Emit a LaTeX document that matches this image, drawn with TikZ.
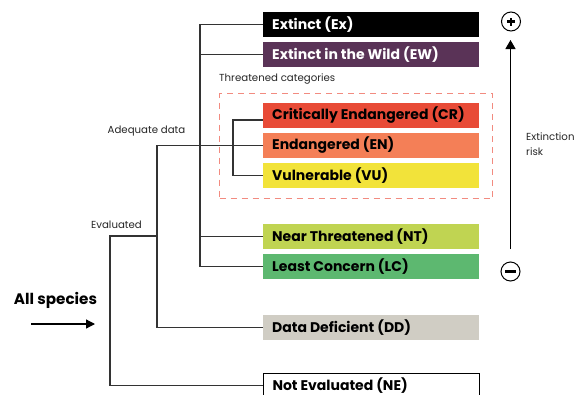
\documentclass[tikz,border=0pt]{standalone}
\usepackage{fontspec}
\setmainfont{Poppins}
\usetikzlibrary{arrows.meta}
\definecolor{cEx}{HTML}{000000}
\definecolor{cEW}{HTML}{5A3357}
\definecolor{cCR}{HTML}{E84B37}
\definecolor{cEN}{HTML}{F47F57}
\definecolor{cVU}{HTML}{F2E33A}
\definecolor{cNT}{HTML}{C0D452}
\definecolor{cLC}{HTML}{5DB870}
\definecolor{cDD}{HTML}{D0CDC4}
\definecolor{cDash}{HTML}{F28B80}
\definecolor{cLine}{HTML}{333333}
\newcommand{\boxtext}[1]{\makebox[198pt][l]{#1}}
\tikzset{
  cat/.style={anchor=west, minimum height=25pt, inner xsep=9pt, inner ysep=0pt, font=\fontsize{14}{16}\selectfont\bfseries, text=black},
  conn/.style={draw=cLine, line width=1.1pt},
  lbl/.style={font=\fontsize{10.2}{12}\selectfont, text=black!85, inner sep=0pt},
  sign/.style={circle, draw=black, line width=1pt, minimum size=19pt, inner sep=0pt}
}
\begin{document}
\begin{tikzpicture}[x=1pt,y=-1pt]
\useasboundingbox (0,0) rectangle (576,394);
\clip (0,0) rectangle (576,394);
% boxes
\node[cat, fill=cEx, text=white] (Ex) at (263,24.5) {\boxtext{Extinct (Ex)}};
\node[cat, fill=cEW, text=white] (EW) at (263,54.5) {\boxtext{Extinct in the Wild (EW)}};
\node[cat, fill=cCR] (CR) at (263,115.5) {\boxtext{Critically Endangered (CR)}};
\node[cat, fill=cEN] (EN) at (263,145.5) {\boxtext{Endangered (EN)}};
\node[cat, fill=cVU] (VU) at (263,175.5) {\boxtext{Vulnerable (VU)}};
\node[cat, fill=cNT] (NT) at (263,236.5) {\boxtext{Near Threatened (NT)}};
\node[cat, fill=cLC] (LC) at (263,266.5) {\boxtext{Least Concern (LC)}};
\node[cat, fill=cDD] (DD) at (263,327.5) {\boxtext{Data Deficient (DD)}};
\node[cat, draw=black, line width=1pt, fill=white] (NE) at (263,385.5) {\boxtext{Not Evaluated (NE)}};
% dashed threatened box
\node[draw=cDash, dashed, dash pattern=on 6pt off 5pt, line width=1pt, minimum width=273pt, minimum height=105pt, anchor=north west, inner sep=0pt] (thr) at (219,93) {};
\node[lbl, anchor=west] (thrl) at (219,78.5) {Threatened categories};
% junction coordinates
\coordinate (jA) at (200,266.5);
\coordinate (jB) at (233,175.5);
\coordinate (jC) at (157,327.5);
\coordinate (jE) at (157,236);
\coordinate (jF) at (110,236);
% connectors
\draw[conn] (Ex.west) -| (jA) -- (LC.west);
\draw[conn] (EW.west) -- (EW.west -| jA);
\draw[conn] (NT.west) -- (NT.west -| jA);
\draw[conn] ([yshift=-4.5pt]CR.west) -| (jB) -- (VU.west);
\draw[conn] (EN.west) -| (jC) -- (DD.west);
\draw[conn] (jE) -- (jF) |- (NE.west);
% labels
\node[lbl] (adq) at (146.5,131) {Adequate data};
\node[lbl] (evl) at (116.5,225) {Evaluated};
\node[font=\fontsize{15.2}{17}\selectfont\bfseries, inner sep=0pt] (all) at (55.5,300) {All species};
\coordinate (a1) at (31,324);
\coordinate (a2) at (95,324);
\draw[line width=1.3pt, -{Triangle[length=9pt,width=9pt]}] (a1) -- (a2);
% risk arrow
\node[sign] (plus) at (511,21.5) {};
\draw[line width=2.6pt] ([xshift=-4pt]plus.center) -- ([xshift=4pt]plus.center);
\draw[line width=2.6pt] ([yshift=-4pt]plus.center) -- ([yshift=4pt]plus.center);
\node[sign] (minus) at (510.5,271.5) {};
\draw[line width=2.8pt] ([xshift=-5.5pt]minus.center) -- ([xshift=5.5pt]minus.center);
\coordinate (r1) at (510.5,249);
\coordinate (r2) at (510.5,40);
\draw[line width=1.3pt, -{Triangle[length=9pt,width=10pt]}] (r1) -- (r2);
\node[lbl, anchor=west, align=left, font=\fontsize{10.2}{15}\selectfont] (risk) at (526,144.5) {Extinction\\risk};
\end{tikzpicture}
\end{document}
